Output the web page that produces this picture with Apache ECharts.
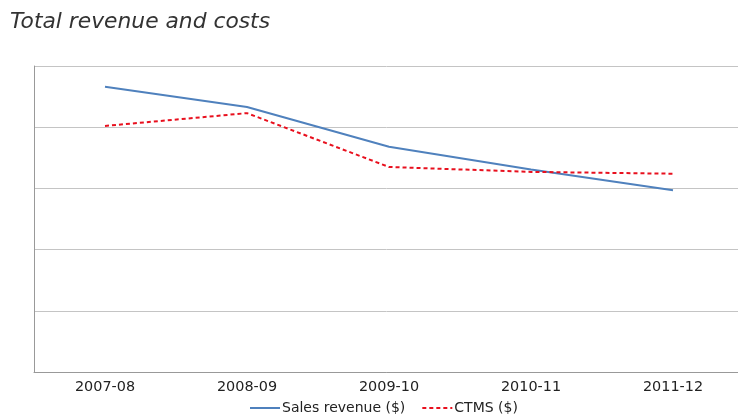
<!DOCTYPE html>
<html><head><meta charset="utf-8">
<script src="https://cdn.jsdelivr.net/npm/echarts@6/dist/echarts.min.js"></script>
<style>html,body{margin:0;padding:0;background:#fff;overflow:hidden}#c{width:738px;height:419px}</style>
</head><body><div id="c"></div>
<script>
const categories = ['2007-08','2008-09','2009-10','2010-11','2011-12'];
const salesRevenue = [4.66, 4.33, 3.68, 3.31, 2.97];
const ctms = [4.02, 4.23, 3.35, 3.27, 3.24];

const chart = echarts.init(document.getElementById('c'), null, {renderer:'canvas'});
chart.setOption({
  animation:false,
  title:{text:'Total revenue and costs', left:5, top:6,
    textStyle:{fontFamily:'DejaVu Sans', fontStyle:'italic', fontWeight:'normal', fontSize:21.8, color:'#333'}},
  grid:{left:34, width:710, top:66, height:306, containLabel:false, outerBoundsMode:'none', show:false},
  legend:{top:401, left:249, itemWidth:30, itemHeight:12, itemGap:16, padding:0,
    itemStyle:{opacity:0},
    textStyle:{fontFamily:'DejaVu Sans', fontSize:14, color:'#222', padding:[0,0,0,-3]},
    data:['Sales revenue ($)','CTMS ($)']},
  xAxis:{type:'category', data:categories, boundaryGap:true,
    axisLine:{lineStyle:{color:'#999', width:1}},
    axisTick:{show:false}, splitLine:{show:false},
    axisLabel:{fontFamily:'DejaVu Sans', fontSize:14.4, color:'#222', margin:8}},
  yAxis:{type:'value', min:0, max:5, interval:1,
    axisLine:{show:true, lineStyle:{color:'#999'}},
    axisTick:{show:false}, axisLabel:{show:false},
    splitLine:{lineStyle:{color:'#c4c4c4', width:1}}},
  series:[
    {name:'Sales revenue ($)', type:'line', data:salesRevenue, symbol:'none',
      lineStyle:{color:'#4F81BD', width:2}, itemStyle:{color:'#4F81BD'}},
    {name:'CTMS ($)', type:'line', data:ctms, symbol:'none',
      lineStyle:{color:'#E8101E', width:2, type:[4,3]}, itemStyle:{color:'#E8101E'}}
  ]
});
</script></body></html>
